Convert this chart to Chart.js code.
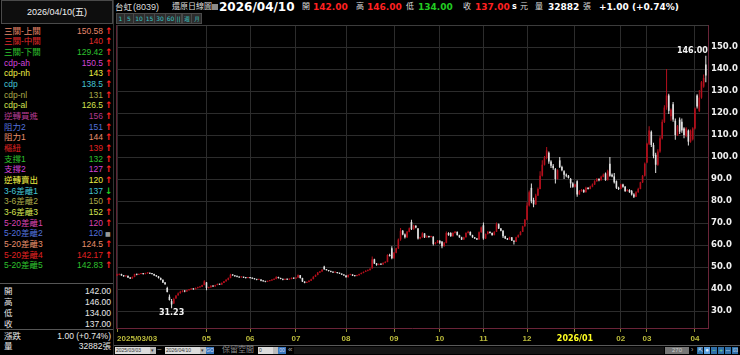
<!DOCTYPE html>
<html>
<head>
<meta charset="utf-8">
<script src="https://cdn.jsdelivr.net/npm/chart.js@4.4.1/dist/chart.umd.min.js"></script>
<style>
  body { margin: 0; background: #000; width: 740px; height: 355px; overflow: hidden; position: relative;
         font-family: "Liberation Sans", "Noto Sans CJK TC", sans-serif; color: #e8e8e8; }
  .abs { position: absolute; white-space: nowrap; }
  #hdr { left: 1px; top: 0px; width: 110px; height: 22px; border: 1px solid #4a4a4a; background: #0e0e0e;
         font-size: 9px; text-align: center; line-height: 22px; color: #f0f0f0; }
  .row { position: absolute; left: 0; width: 113px; height: 11px; line-height: 11px; font-size: 8.5px; }
  .row .lab { position: absolute; left: 4px; }
  .row .val { position: absolute; right: 10px; }
  .row .arr { position: absolute; left: 105px; font-size: 9px; font-weight: bold; font-family: "DejaVu Sans", sans-serif; }
  .sep { position: absolute; left: 0; width: 113px; height: 1px; background: #555; }
  .t { position: absolute; top: 1px; line-height: 12px; font-size: 8px; color: #ddd; white-space: nowrap; }
  .tb { font-family: "DejaVu Sans", sans-serif; font-weight: bold; font-style: normal; font-size: 9px; }
  .btn { position: absolute; top: 13px; height: 9px; background: #2c2c2c; border: 1px solid #4a4a4a; color: #3cc8c8;
         font-size: 6px; line-height: 9px; text-align: center; font-family: "DejaVu Sans", sans-serif; }
  #kline { position: absolute; left: 113px; top: 24px; }
  .box { position: absolute; top: 347px; height: 7px; background: #dcdcdc; color: #333; font-size: 5px; line-height: 7px; padding-left: 1px; }
  .blue { position: absolute; top: 347px; height: 7px; background: #3a78c0; color: #dde; font-size: 5px; line-height: 7px; text-align: center; }
</style>
</head>
<body>
<div id="panel"></div>
<div id="title"></div>
<canvas id="kline" width="627" height="320"></canvas>
<div id="bottom"></div>
<script>
// ---- data ----
const stockName = '台虹';
const stockCode = '(8039)';
const chartKind = '還原日線圖';
const quoteDate = '2026/04/10';
const quoteLabels = ['開', '高', '低', '收'];
const quoteValues = ['142.00', '146.00', '134.00', '137.00'];
const changeText = '1.00 (+0.74%)';
const volumeText = '32882';

const indNames = ['三關-上關', '三關-中關', '三關-下關', 'cdp-ah', 'cdp-nh', 'cdp', 'cdp-nl', 'cdp-al',
  '逆轉買進', '阻力2', '阻力1', '樞紐', '支撐1', '支撐2', '逆轉賣出',
  '3-6差離1', '3-6差離2', '3-6差離3', '5-20差離1', '5-20差離2', '5-20差離3', '5-20差離4', '5-20差離5'];
const indValues = ['150.58', '140', '129.42', '150.5', '143', '138.5', '131', '126.5',
  '156', '151', '144', '139', '132', '127', '120',
  '137', '150', '152', '120', '120', '124.5', '142.17', '142.83'];
const indTrend = ['up', 'up', 'up', 'up', 'up', 'up', 'up', 'up', 'up', 'up', 'up', 'up', 'up', 'up', 'up',
  'down', 'up', 'up', 'up', 'flat', 'up', 'up', 'up'];
const indColors = ['#e8866a', '#e02a2a', '#2ec22e', '#d244d8', '#eeee44', '#44c4d4', '#a8a848', '#d4e450',
  '#b03a8e', '#5272dc', '#e8906c', '#e02222', '#2ec22e', '#d244d8', '#eeee44',
  '#44c4d4', '#a8a848', '#d4e450', '#d844b0', '#5272dc', '#e8906c', '#e02222', '#2ec22e'];

// month ticks: bar index where the month starts, and the label shown
const monthTicks = [0, 41, 61, 82, 105, 127, 148, 168, 188, 210, 231, 243, 265];
const monthLabels = ['2025/03/03', '05', '06', '07', '08', '09', '10', '11', '12', '2026/01', '02', '03', '04'];
const yTicks = [30, 40, 50, 60, 70, 80, 90, 100, 110, 120, 130, 140, 150];

// daily OHLC, 2025/03/03 .. 2026/04/10
const opens = [
  46.2,46.5,46.8,46.2,45.8,46.0,45.2,44.8,45.5,46.8,
  46.5,46.8,47.0,46.8,47.2,47.3,47.0,46.8,46.2,45.8,
  45.0,44.2,43.0,40.5,36.5,34.5,33.5,35.8,37.2,38.2,
  38.8,39.2,38.9,39.5,39.8,40.2,39.9,40.5,40.8,41.0,
  41.8,43.0,40.5,40.8,41.5,41.2,41.8,42.3,42.0,42.8,
  43.5,44.2,45.0,46.5,46.2,45.8,45.6,45.3,45.5,45.2,
  45.0,45.2,45.0,44.8,44.5,44.2,44.3,43.8,43.5,43.3,
  43.6,43.9,44.2,44.6,45.5,45.0,44.6,44.2,44.5,44.3,
  44.6,45.0,44.8,45.2,46.3,45.0,43.4,42.8,43.2,43.8,
  44.5,45.6,46.4,47.5,48.0,50.2,49.0,48.6,48.2,47.8,
  47.5,47.6,47.3,47.0,46.6,46.2,45.4,46.4,46.6,46.1,
  45.9,46.3,46.8,47.3,47.8,48.3,48.6,49.4,53.5,51.6,
  51.0,51.4,51.2,51.9,52.3,55.5,58.5,54.0,56.5,58.5,
  62.5,66.5,64.8,63.5,66.0,70.5,67.2,68.8,67.5,63.0,
  63.5,65.3,63.5,64.0,63.6,63.8,60.5,61.0,62.0,61.5,
  59.5,61.0,65.5,65.5,64.0,65.5,66.0,64.5,63.5,62.5,
  63.5,65.5,66.0,64.5,63.5,63.0,62.5,65.8,69.0,63.0,
  65.0,66.0,65.5,64.5,66.0,69.5,67.5,66.5,64.0,63.0,
  62.5,63.5,62.0,61.5,63.5,64.5,66.0,68.5,71.5,78.0,
  86.0,80.5,78.5,82.5,85.5,91.5,96.5,99.5,102.0,98.0,
  96.0,94.5,90.0,98.5,95.5,93.5,92.0,91.5,90.0,88.0,
  86.5,89.0,83.0,84.5,85.0,84.0,86.0,85.5,86.5,87.5,
  89.0,90.0,89.5,91.0,92.5,89.5,97.0,92.0,91.2,89.0,
  86.0,85.5,87.5,86.5,84.5,85.0,84.5,83.0,82.0,84.0,
  85.5,88.5,91.5,97.5,106.0,111.5,105.5,101.0,96.5,102.5,
  108.5,116.0,122.5,128.0,118.5,124.0,116.5,110.0,117.0,116.0,
  113.0,109.5,112.0,107.0,108.0,113.0,128.0,121.0,127.0,132.0,
  142.0
];
const highs = [
  46.9,47.0,46.9,46.4,46.2,46.1,45.4,45.7,47.0,47.0,
  47.0,47.3,47.2,47.4,47.6,47.4,47.1,46.9,46.4,45.9,
  45.2,44.3,43.2,41.0,37.5,35.5,36.0,37.3,38.4,39.2,
  39.5,39.4,39.7,40.0,40.4,40.3,40.7,41.0,41.2,42.0,
  44.0,43.2,41.0,41.7,41.6,42.0,42.5,42.4,43.0,43.7,
  44.4,45.2,46.9,46.7,46.3,46.0,45.7,45.8,45.6,45.3,
  45.5,45.3,45.1,44.9,44.6,44.5,44.4,43.9,43.6,43.8,
  44.1,44.4,44.8,45.8,45.6,45.1,44.7,44.7,44.6,44.8,
  45.2,45.1,45.4,46.6,46.4,45.1,43.5,43.4,44.0,44.7,
  45.8,46.6,47.7,48.2,49.0,50.6,49.1,48.7,48.3,47.9,
  47.9,47.7,47.4,47.1,46.7,46.3,46.6,46.9,46.7,46.2,
  46.5,47.0,47.5,48.0,48.5,48.8,49.4,54.8,53.8,51.8,
  51.6,51.5,52.1,52.6,55.8,56.0,59.5,56.8,58.8,63.0,
  67.8,66.8,65.2,66.4,68.0,71.5,69.2,69.0,67.8,63.8,
  65.8,65.4,64.4,64.2,64.2,64.0,61.4,62.3,62.2,61.8,
  61.4,66.2,65.8,65.8,65.8,66.4,66.2,64.7,63.8,63.8,
  65.8,66.5,66.1,64.7,63.7,63.2,66.2,68.4,70.2,65.3,
  66.4,66.2,65.7,66.3,70.2,69.8,67.7,66.7,64.2,63.2,
  63.8,63.6,62.2,63.8,64.8,66.3,68.8,71.8,79.5,84.8,
  88.0,81.5,83.3,86.2,93.5,98.5,100.5,104.5,102.5,98.5,
  96.8,95.0,94.5,100.0,96.0,94.0,92.5,91.8,90.5,88.5,
  87.8,89.5,85.0,85.5,85.3,86.5,86.3,87.0,88.0,89.5,
  90.5,90.4,91.5,92.5,93.0,94.2,100.0,92.5,92.7,89.3,
  86.5,87.8,87.8,86.8,85.5,85.3,85.0,83.5,84.5,86.0,
  88.8,91.8,97.5,106.5,114.0,112.0,106.5,102.0,103.5,109.5,
  117.0,123.5,140.0,128.8,122.0,125.0,117.5,114.5,118.0,117.5,
  113.5,113.5,112.5,112.5,113.5,122.5,128.5,130.5,134.5,137.5,
  146.0
];
const lows = [
  46.0,46.3,46.0,45.6,45.6,45.0,44.6,44.7,45.4,46.3,
  46.4,46.7,46.6,46.7,47.0,46.8,46.6,46.0,45.6,44.8,
  44.0,42.8,42.0,38.6,34.8,31.23,33.2,35.5,37.0,37.9,
  38.6,38.6,38.8,39.3,39.6,39.7,39.8,40.3,40.6,40.9,
  41.7,39.5,40.2,40.6,41.0,41.1,41.7,41.8,41.9,42.7,
  43.3,44.0,44.9,46.0,45.6,45.4,45.1,45.2,45.0,44.8,
  44.9,44.8,44.6,44.3,44.0,44.1,43.6,43.3,43.1,43.2,
  43.5,43.8,44.1,44.5,44.8,44.4,44.0,44.1,44.1,44.2,
  44.5,44.6,44.7,45.1,44.8,43.2,42.6,42.7,43.1,43.7,
  44.4,45.5,46.3,47.3,47.9,48.8,48.4,48.0,47.6,47.3,
  47.4,47.1,46.8,46.4,46.0,45.2,45.3,46.3,45.9,45.7,
  45.8,46.2,46.7,47.2,47.7,48.1,48.5,49.3,51.4,50.6,
  50.8,50.9,51.1,51.7,52.2,54.8,53.5,53.8,56.3,58.2,
  62.0,64.5,63.0,63.2,65.8,66.8,67.0,67.6,62.5,62.6,
  63.3,63.2,63.3,63.3,63.4,59.8,60.2,60.8,60.5,58.5,
  59.3,60.8,64.2,63.8,63.9,65.3,64.3,63.3,62.3,62.4,
  63.4,65.3,64.3,63.3,62.8,62.3,62.4,65.6,62.4,62.8,
  64.8,65.3,64.3,64.4,65.9,67.3,66.3,63.2,62.8,62.3,
  62.4,61.8,60.2,61.4,63.4,64.4,65.9,68.3,71.3,77.5,
  79.0,77.2,78.2,82.3,85.3,91.2,96.2,99.0,97.0,95.0,
  94.2,88.0,89.8,95.0,93.5,90.0,90.8,90.2,86.0,86.0,
  86.2,82.0,82.8,84.2,83.8,83.9,85.2,85.3,86.3,87.3,
  88.8,89.0,89.3,90.8,89.2,89.3,91.0,90.8,88.0,85.5,
  85.0,85.3,86.0,84.2,84.3,83.8,82.5,81.4,81.8,83.8,
  85.3,88.2,91.2,97.2,105.5,104.5,99.5,92.7,96.0,102.0,
  108.0,115.5,121.5,119.5,116.5,116.0,107.8,109.5,110.5,111.0,
  108.5,109.0,105.2,106.5,107.5,112.5,122.0,120.5,126.5,131.5,
  134.0
];
const closes = [
  46.5,46.8,46.2,45.8,46.0,45.2,44.8,45.5,46.8,46.5,
  46.8,47.0,46.8,47.2,47.3,47.0,46.8,46.2,45.8,45.0,
  44.2,43.0,42.2,38.6,35.0,33.0,35.5,37.0,38.0,38.8,
  39.2,38.9,39.5,39.8,40.2,39.9,40.5,40.8,41.0,41.8,
  43.5,40.5,40.8,41.5,41.2,41.8,42.3,42.0,42.8,43.5,
  44.2,45.0,46.5,46.2,45.8,45.6,45.3,45.5,45.2,45.0,
  45.2,45.0,44.8,44.5,44.2,44.3,43.8,43.5,43.3,43.6,
  43.9,44.2,44.6,45.5,45.0,44.6,44.2,44.5,44.3,44.6,
  45.0,44.8,45.2,46.3,45.0,43.4,42.8,43.2,43.8,44.5,
  45.6,46.4,47.5,48.0,48.8,49.0,48.6,48.2,47.8,47.5,
  47.6,47.3,47.0,46.6,46.2,45.4,46.4,46.6,46.1,45.9,
  46.3,46.8,47.3,47.8,48.3,48.6,49.2,53.5,51.6,51.0,
  51.4,51.2,51.9,52.3,55.5,55.0,54.0,56.5,58.5,62.5,
  66.5,64.8,63.5,66.0,67.6,67.2,68.8,68.0,63.0,63.5,
  65.3,63.5,64.0,63.6,63.8,60.5,61.0,62.0,61.0,59.5,
  61.0,65.5,64.5,64.0,65.5,66.0,64.5,63.5,62.5,63.5,
  65.5,66.0,64.5,63.5,63.0,62.5,65.8,68.0,63.0,65.0,
  66.0,65.5,64.5,66.0,69.5,67.5,66.5,64.0,63.0,62.5,
  63.5,62.0,61.5,63.5,64.5,66.0,68.5,71.5,78.0,84.0,
  80.0,78.5,82.5,85.5,91.5,96.5,99.5,103.0,98.0,96.0,
  95.0,90.0,94.0,95.5,94.0,92.0,91.5,90.5,88.0,86.5,
  87.5,83.0,84.5,85.0,84.0,86.0,85.5,86.5,87.5,89.0,
  90.0,89.5,91.0,92.0,89.5,93.5,91.5,91.2,88.5,86.0,
  85.5,87.5,86.5,84.5,85.0,84.0,83.0,82.0,84.0,85.5,
  88.5,91.5,97.0,106.0,112.0,105.5,100.5,96.5,102.5,108.5,
  116.0,122.5,128.0,121.0,121.5,117.0,110.0,114.0,111.5,112.0,
  110.0,113.0,107.0,112.0,113.0,122.0,123.0,127.0,134.0,136.0,
  137.0
];

// ---- left panel ----
const panel = document.getElementById('panel');
function add(parent, cls, css, text) {
  const d = document.createElement('div');
  if (cls) d.className = cls;
  if (css) d.style.cssText = css;
  if (text !== undefined) d.textContent = text;
  parent.appendChild(d);
  return d;
}
add(panel, 'abs', 'left:113px;top:0;width:1px;height:355px;background:#333;');
const hdr = add(panel, 'abs', '', quoteDate + '(五)');
hdr.id = 'hdr';
indNames.forEach((name, i) => {
  const r = add(panel, 'row', 'top:' + Math.round(25.5 + i * 10.68) + 'px;color:' + indColors[i] + ';');
  add(r, 'lab', '', name);
  add(r, 'val', '', indValues[i]);
  if (indTrend[i] === 'up') add(r, 'arr', 'color:#ff2020;', '↑');
  else if (indTrend[i] === 'down') add(r, 'arr', 'color:#22cc22;', '↓');
  else add(r, 'arr', 'color:#999;font-size:6px;', '■');
});
add(panel, 'sep', 'top:283px;');
quoteLabels.forEach((lab, i) => {
  const r = add(panel, 'row', 'top:' + (286 + i * 11) + 'px;color:#e8e8e8;');
  add(r, 'lab', '', lab);
  add(r, 'val', 'right:2px;', quoteValues[i]);
});
add(panel, 'sep', 'top:329px;');
let r = add(panel, 'row', 'top:331px;color:#e8e8e8;');
add(r, 'lab', '', '漲跌');
add(r, 'val', 'right:2px;', changeText);
r = add(panel, 'row', 'top:341px;color:#e8e8e8;');
add(r, 'lab', '', '量');
add(r, 'val', 'right:2px;', volumeText + '張');

// ---- title bar ----
const title = document.getElementById('title');
function tt(left, text, extra, cls) {
  return add(title, 't' + (cls ? ' ' + cls : ''), 'left:' + left + 'px;' + (extra || ''), text);
}
tt(115, stockName, 'font-size:8.5px;');
tt(133, stockCode, 'font-size:9px;');
tt(172, chartKind, '');
add(title, 'abs', 'left:212px;top:4px;width:6px;height:6px;background:#8a8a8a;');
tt(219, quoteDate, 'font-size:12px;top:0;line-height:14px;color:#fff;', 'tb');
tt(302, quoteLabels[0]);
tt(313, quoteValues[0], 'color:#ff2020;', 'tb');
tt(356, quoteLabels[1]);
tt(367, quoteValues[1], 'color:#ff2020;', 'tb');
tt(406, quoteLabels[2]);
tt(418, quoteValues[2], 'color:#22cc22;', 'tb');
tt(463, quoteLabels[3]);
tt(475, quoteValues[3], 'color:#ff2020;', 'tb');
tt(512, 's', 'color:#fff;font-size:8px;', 'tb');
tt(520, '元');
tt(535, '量');
tt(548, volumeText, 'color:#fff;', 'tb');
tt(583, '張');
tt(599, '+' + changeText, 'color:#fff;', 'tb');
[['1', 116, 7], ['5', 124, 8], ['10', 133, 10], ['15', 144, 9], ['30', 154, 10], ['60', 165, 9],
 ['||', 175, 5], ['週', 182, 8], ['月', 191, 9]].forEach(b => {
  add(title, 'btn', 'left:' + b[1] + 'px;width:' + b[2] + 'px;', b[0]);
});

// ---- bottom strip ----
const bottom = document.getElementById('bottom');
add(bottom, 'abs', 'left:114px;top:345px;width:626px;height:1px;background:#5a5a5a;');
add(bottom, 'box', 'left:115px;width:34px;', '2025/03/03');
add(bottom, 'box', 'left:150px;width:5px;background:#bbb;', '▾');
add(bottom, 'abs', 'left:157px;top:345px;font-size:8px;color:#aaa;', '~');
add(bottom, 'box', 'left:165px;width:34px;', '2026/04/10');
add(bottom, 'box', 'left:200px;width:5px;background:#bbb;', '▾');
add(bottom, 'blue', 'left:206px;width:8px;', 'GO');
add(bottom, 'abs', 'left:222px;top:345px;font-size:8px;line-height:10px;color:#8a8a8a;', '保留空間');
add(bottom, 'box', 'left:258px;width:14px;', '0');
add(bottom, 'box', 'left:273px;width:4px;background:#bbb;', '');
add(bottom, 'blue', 'left:278px;width:8px;', '00');
add(bottom, 'abs', 'left:288px;top:345px;font-size:8px;line-height:10px;color:#aaa;', '«');
add(bottom, 'abs', 'left:294px;top:347px;width:370px;height:7px;background:#151515;');
add(bottom, 'abs', 'left:665px;top:347px;width:24px;height:7px;background:#777;color:#ccc;font-size:6px;line-height:7px;text-align:center;', '270');
add(bottom, 'abs', 'left:691px;top:345px;font-size:7px;line-height:10px;color:#aaa;', '›');
['⇱', '●', '−', '+', '⇔', '⊡'].forEach((s, i) => {
  add(bottom, 'blue', 'left:' + (697 + i * 7) + 'px;width:6px;background:' + (i === 1 ? '#5aa0e0' : '#2f6fa8') + ';color:' + (i === 2 || i === 3 ? '#7fe07f' : '#e0f0ff') + ';font-size:6px;', s);
});

// ---- chart ----
const upColor = '#b40f1c';
const downColor = '#e2e2e2';
const candleColors = closes.map((c, i) => (c >= opens[i] ? upColor : downColor));
const wickData = highs.map((h, i) => ({ x: i, y: [lows[i], h] }));
const bodyData = closes.map((c, i) => ({ x: i, y: [opens[i], c] }));
const yearIdx = monthTicks[monthLabels.indexOf('2026/01')];
const lastIdx = closes.length - 1;
const hiIdx = highs.indexOf(Math.max(...highs));
const loIdx = lows.indexOf(Math.min(...lows));

const frame = {
  id: 'frame',
  beforeDatasetsDraw(chart) {
    const { ctx, chartArea: a } = chart;
    ctx.save();
    ctx.fillStyle = '#3c3c3c';
    ctx.fillRect(a.left, a.top, a.right - a.left, 1);
    ctx.fillStyle = '#5e2436';
    ctx.fillRect(a.left, a.top, 1, a.bottom - a.top);
    ctx.restore();
  },
  afterDatasetsDraw(chart) {
    const { ctx, scales: { x, y } } = chart;
    ctx.save();
    ctx.font = 'bold 8px "DejaVu Sans"';
    ctx.fillStyle = '#f2f2f2';
    ctx.textAlign = 'right';
    ctx.textBaseline = 'bottom';
    ctx.fillText(highs[hiIdx].toFixed(2), x.getPixelForValue(hiIdx) + 2, y.getPixelForValue(highs[hiIdx]) - 1);
    ctx.textAlign = 'center';
    ctx.textBaseline = 'top';
    ctx.fillText(lows[loIdx].toFixed(2), x.getPixelForValue(loIdx), y.getPixelForValue(lows[loIdx]) + 1);
    ctx.restore();
  }
};

new Chart(document.getElementById('kline'), {
  type: 'bar',
  data: {
    datasets: [
      { data: bodyData, backgroundColor: candleColors, barThickness: 1.6, minBarLength: 1, grouped: false, borderWidth: 0, inflateAmount: 0 },
      { data: wickData, backgroundColor: candleColors, barThickness: 1, grouped: false, borderWidth: 0, inflateAmount: 0 }
    ]
  },
  options: {
    responsive: false,
    animation: false,
    devicePixelRatio: 1,
    layout: { padding: { left: 3, top: 1, right: 0, bottom: 0 } },
    plugins: { legend: { display: false }, tooltip: { enabled: false } },
    scales: {
      x: {
        type: 'linear',
        min: -0.5,
        max: lastIdx + 1,
        offset: false,
        afterBuildTicks: s => { s.ticks = monthTicks.concat([lastIdx + 1]).map(v => ({ value: v })); },
        afterFit: s => { s.height = 16; s.paddingLeft = 0; s.paddingRight = 0; },
        grid: {
          offset: false,
          color: c => (c.tick && c.tick.value > lastIdx ? 'rgba(0,0,0,0)' : '#2c2c2c'),
          tickColor: c => (c.tick && c.tick.value > lastIdx ? 'rgba(0,0,0,0)' : '#8c8c30'),
          tickLength: 4
        },
        border: { color: '#6a2438' },
        ticks: {
          autoSkip: false,
          maxRotation: 0,
          minRotation: 0,
          align: 'inner',
          padding: 2,
          callback: (v, i) => monthLabels[i] || '',
          color: c => (c.tick && c.tick.value === yearIdx ? '#ffff22' : '#bcbc3c'),
          font: c => (c.tick && c.tick.value === yearIdx
            ? { family: 'DejaVu Sans', weight: 'bold', size: 8 }
            : { family: 'Liberation Sans', weight: 'bold', size: 8 })
        }
      },
      y: {
        type: 'linear',
        position: 'right',
        min: 22.3,
        max: 160,
        afterBuildTicks: s => { s.ticks = yTicks.map(v => ({ value: v })); },
        afterFit: s => { s.width = 32; s.paddingTop = 0; s.paddingBottom = 0; },
        grid: { color: '#2c2c2c', drawTicks: false },
        border: { color: '#6a2438' },
        ticks: {
          padding: 3,
          color: '#f0f0f0',
          font: { family: 'DejaVu Sans', weight: 'bold', size: 8.5 },
          callback: v => v.toFixed(1)
        }
      }
    }
  },
  plugins: [frame]
});
</script>
</body>
</html>
